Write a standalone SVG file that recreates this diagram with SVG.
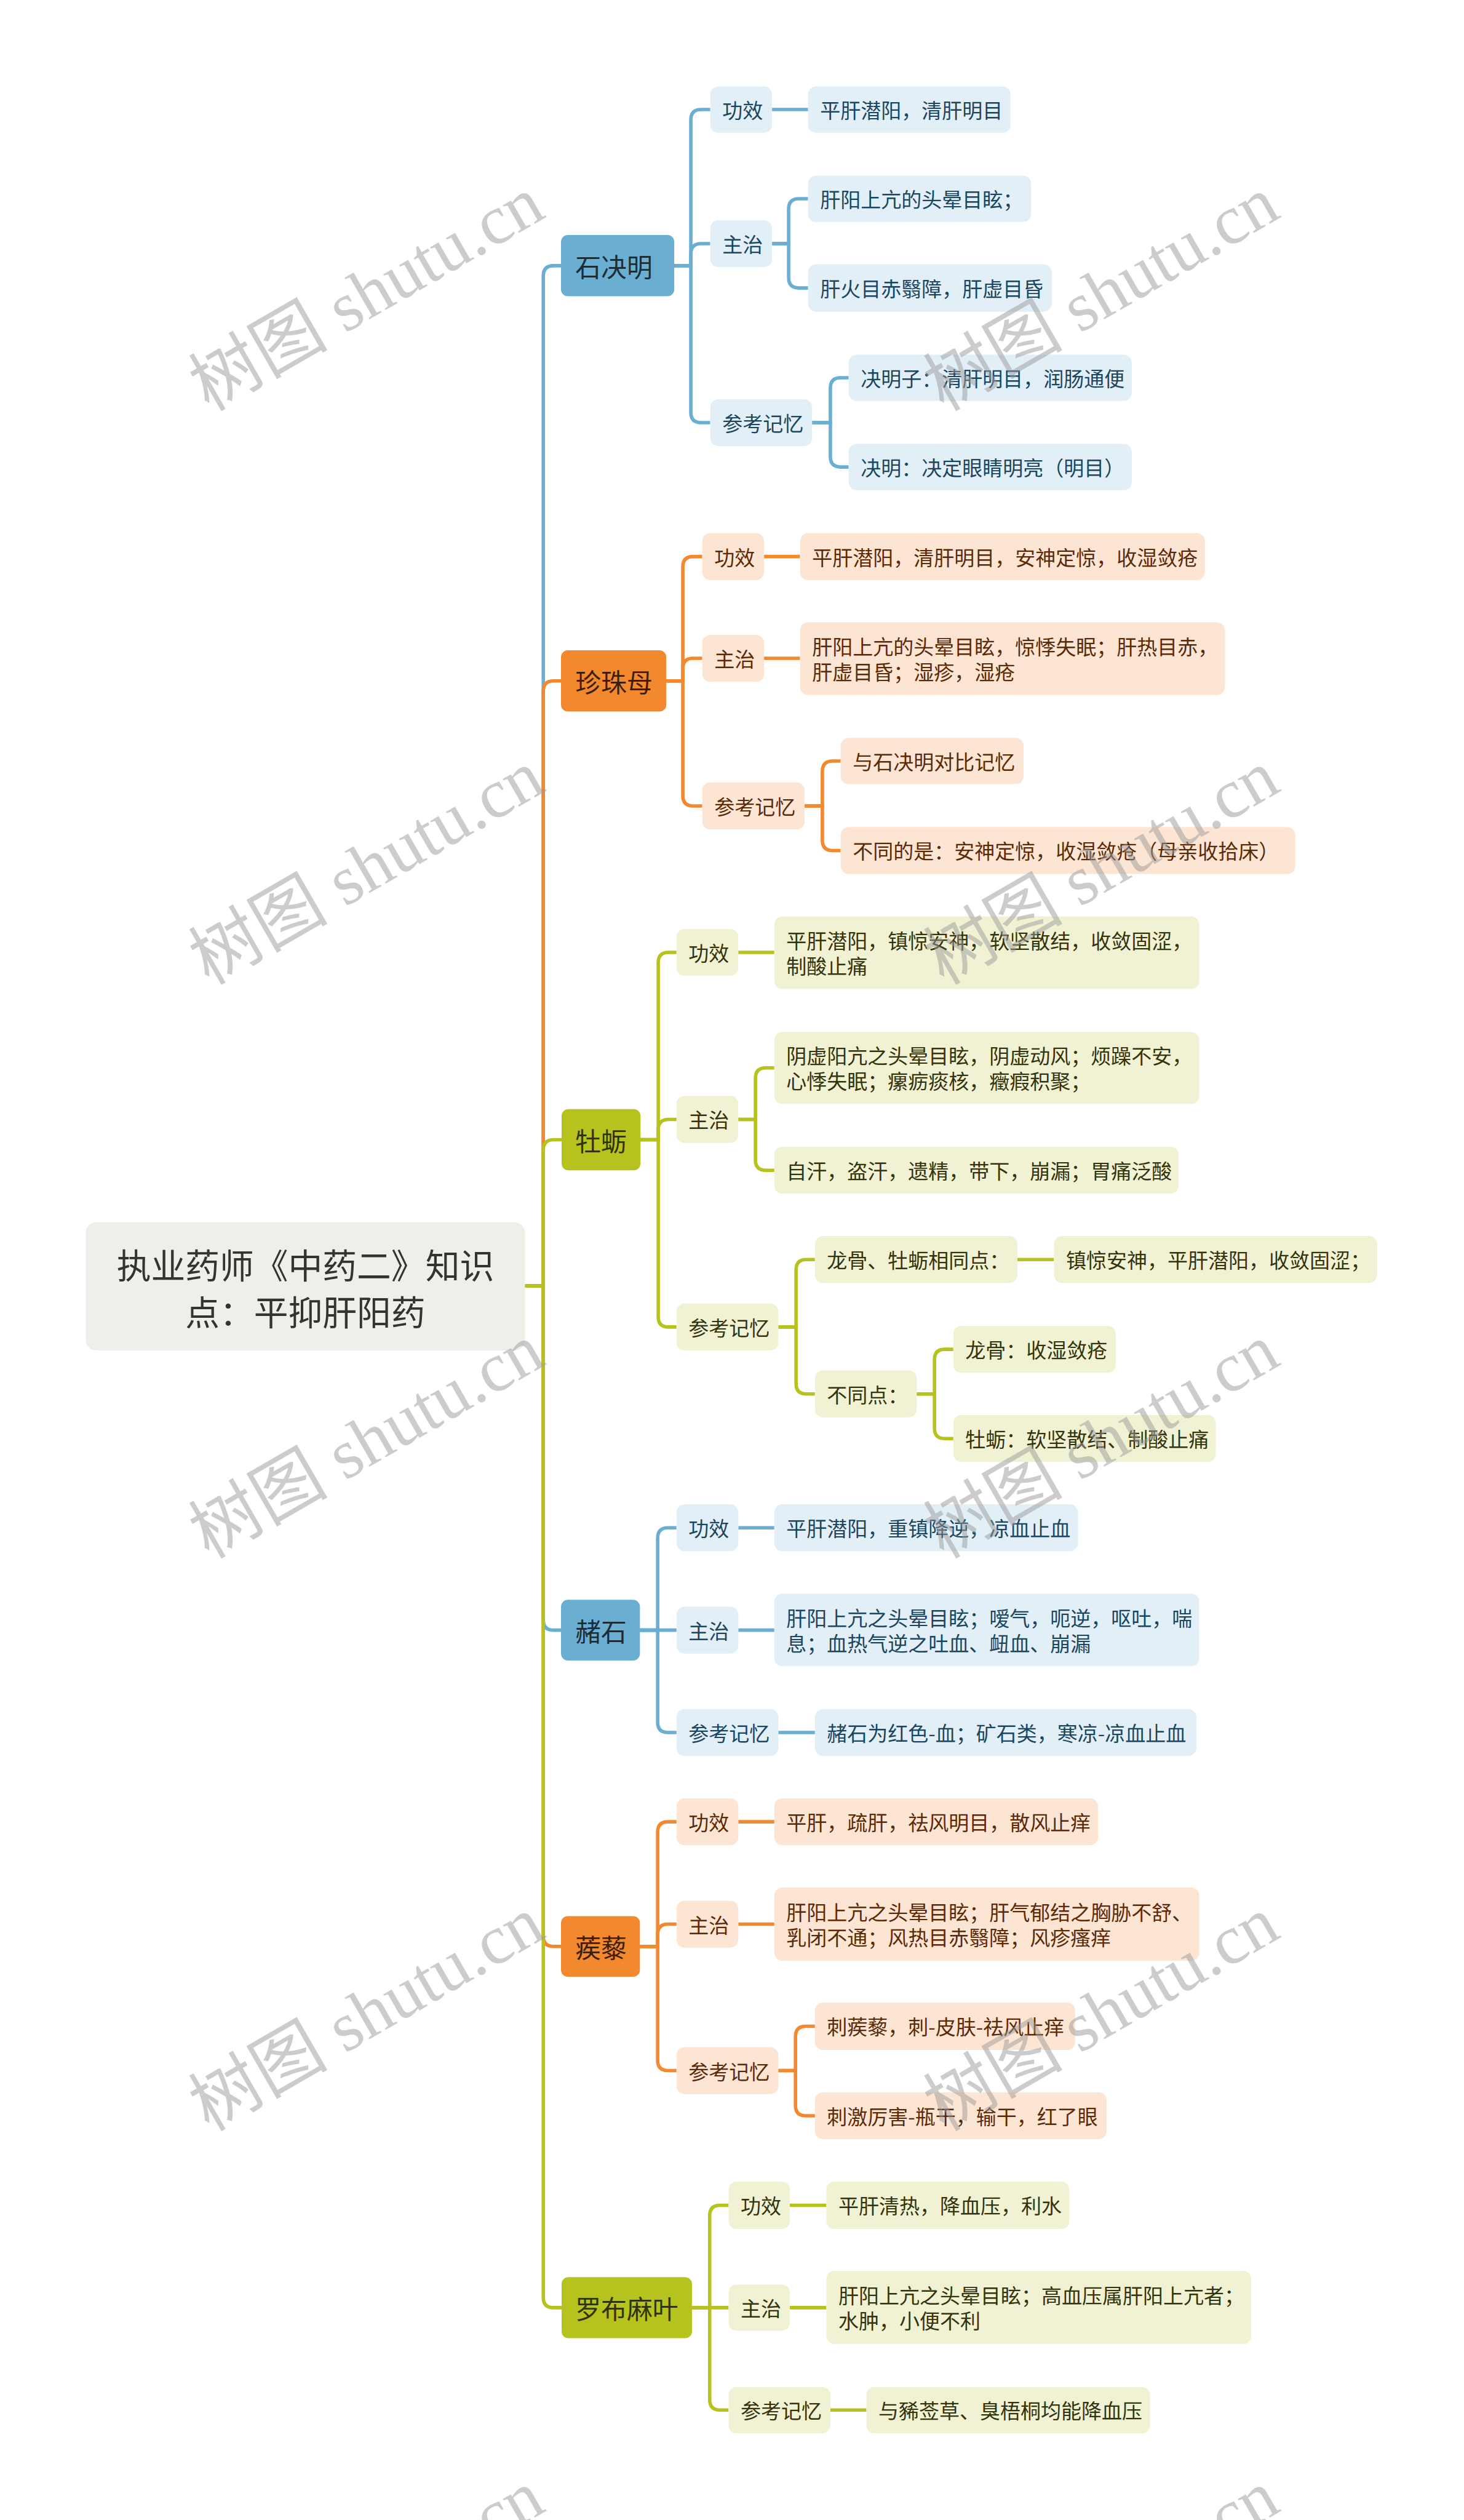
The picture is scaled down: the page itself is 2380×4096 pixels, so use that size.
<svg xmlns="http://www.w3.org/2000/svg" width="2380" height="4096" viewBox="0 0 2380 4096">
<style>
.t{font-family:"Noto Sans CJK SC","Noto Sans",sans-serif;dominant-baseline:central}
.s{font-size:35.5px}
.m{font-size:45px}
.r{font-size:60px;fill:#333333;text-anchor:middle}
.c{fill:none;stroke-width:6}
.cb{stroke:#6aaed2}
.co{stroke:#f2892f}
.cg{stroke:#b6c21e}
.mb{fill:#6aaed2}.mo{fill:#f2892f}.mg{fill:#b6c21e}
.lb{fill:#e2eff7}.lo{fill:#fde5d3}.lg{fill:#f1f2d3}
.tmb{fill:#1c2d38}.tmo{fill:#3d1e05}.tmg{fill:#2f3306}
.tb{fill:#1a4660}.to{fill:#5a2a08}.tg{fill:#33330c}
.wm{font-family:"Liberation Serif","Noto Sans CJK SC",serif;font-size:122px;fill:#999999;fill-opacity:0.5;text-anchor:middle;dominant-baseline:central}
</style>
<rect width="2380" height="4096" fill="#ffffff"/>
<g transform="scale(0.9297)">
<g id="connectors">
 <g class="c cb">
  <path d="M918,2248 H950 V482.5 Q950,464.5 968,464.5 H981"/>
  <path d="M1179,464.5 H1208 V209.5 Q1208,191.5 1226,191.5 H1242"/>
  <path d="M1179,464.5 H1208 V444 Q1208,426 1226,426 H1242"/>
  <path d="M1179,464.5 H1208 V721 Q1208,739 1226,739 H1242"/>
  <path d="M1350,191.5 H1413"/>
  <path d="M1350,426 H1379 V365.5 Q1379,347.5 1397,347.5 H1413"/>
  <path d="M1350,426 H1379 V485.5 Q1379,503.5 1397,503.5 H1413"/>
  <path d="M1420,739 H1452 V678.5 Q1452,660.5 1470,660.5 H1484"/>
  <path d="M1420,739 H1452 V798.5 Q1452,816.5 1470,816.5 H1484"/>
 </g>
 <g class="c co">
  <path d="M918,2248 H950 V1208.5 Q950,1190.5 968,1190.5 H981"/>
  <path d="M1165,1190.5 H1194 V991 Q1194,973 1212,973 H1228"/>
  <path d="M1165,1190.5 H1194 V1169 Q1194,1151 1212,1151 H1228"/>
  <path d="M1165,1190.5 H1194 V1391 Q1194,1409 1212,1409 H1228"/>
  <path d="M1336,973 H1399"/>
  <path d="M1336,1151 H1399"/>
  <path d="M1407,1409 H1438 V1348.5 Q1438,1330.5 1456,1330.5 H1470"/>
  <path d="M1407,1409 H1438 V1469 Q1438,1487 1456,1487 H1470"/>
 </g>
 <g class="c cg">
  <path d="M918,2248 H950 V2010.5 Q950,1992.5 968,1992.5 H982"/>
  <path d="M1120,1992.5 H1151 V1683 Q1151,1665 1169,1665 H1183"/>
  <path d="M1120,1992.5 H1151 V1975 Q1151,1957 1169,1957 H1183"/>
  <path d="M1120,1992.5 H1151 V2302 Q1151,2320 1169,2320 H1183"/>
  <path d="M1291,1665 H1354"/>
  <path d="M1291,1957 H1321 V1885 Q1321,1867 1339,1867 H1354"/>
  <path d="M1291,1957 H1321 V2028 Q1321,2046 1339,2046 H1354"/>
  <path d="M1361,2320 H1392 V2220 Q1392,2202 1410,2202 H1425"/>
  <path d="M1361,2320 H1392 V2419 Q1392,2437 1410,2437 H1425"/>
  <path d="M1779,2202 H1843"/>
  <path d="M1603,2437 H1634 V2377 Q1634,2359 1652,2359 H1667"/>
  <path d="M1603,2437 H1634 V2497 Q1634,2515 1652,2515 H1667"/>
 </g>
 <g class="c cb">
  <path d="M918,2248 H950 V2832 Q950,2850 968,2850 H981"/>
  <path d="M1119,2850 H1150 V2689 Q1150,2671 1168,2671 H1183"/>
  <path d="M1119,2850 H1183"/>
  <path d="M1119,2850 H1150 V3011 Q1150,3029 1168,3029 H1183"/>
  <path d="M1291,2671 H1354"/>
  <path d="M1291,2850 H1354"/>
  <path d="M1361,3029 H1425"/>
 </g>
 <g class="c co">
  <path d="M918,2248 H950 V3385 Q950,3403 968,3403 H981"/>
  <path d="M1119,3403 H1150 V3203 Q1150,3185 1168,3185 H1183"/>
  <path d="M1119,3403 H1150 V3382 Q1150,3364 1168,3364 H1183"/>
  <path d="M1119,3403 H1150 V3602 Q1150,3620 1168,3620 H1183"/>
  <path d="M1291,3185 H1354"/>
  <path d="M1291,3364 H1354"/>
  <path d="M1361,3620 H1391 V3560.5 Q1391,3542.5 1409,3542.5 H1425"/>
  <path d="M1361,3620 H1391 V3681 Q1391,3699 1409,3699 H1425"/>
 </g>
 <g class="c cg">
  <path d="M918,2248 H950 V4016.5 Q950,4034.5 968,4034.5 H982"/>
  <path d="M1210,4034.5 H1241 V3873.5 Q1241,3855.5 1259,3855.5 H1274"/>
  <path d="M1210,4034.5 H1274"/>
  <path d="M1210,4034.5 H1241 V4195.5 Q1241,4213.5 1259,4213.5 H1274"/>
  <path d="M1381,3855.5 H1445"/>
  <path d="M1381,4034.5 H1445"/>
  <path d="M1452,4213.5 H1515"/>
 </g>
</g>

<g id="root">
 <rect x="150" y="2137" width="768" height="224" rx="18" fill="#efefe9"/>
 <text class="t r" x="534" y="2209">执业药师《中药二》知识</text>
 <text class="t r" x="534" y="2291">点：平抑肝阳药</text>
</g>

<!-- 石决明 -->
<g id="n1">
 <rect class="mb" x="981" y="411" width="198" height="107" rx="12"/>
 <text class="t m tmb" x="1006" y="464.5">石决明</text>
</g>
<g id="n1a"><rect class="lb" x="1242" y="151" width="108" height="81" rx="14"/><text class="t s tb" x="1263" y="191.5">功效</text></g>
<g id="n1b"><rect class="lb" x="1242" y="385" width="108" height="82" rx="14"/><text class="t s tb" x="1263" y="426">主治</text></g>
<g id="n1c"><rect class="lb" x="1242" y="698" width="178" height="82" rx="14"/><text class="t s tb" x="1263" y="739">参考记忆</text></g>
<g id="n1a1"><rect class="lb" x="1413" y="151" width="354" height="81" rx="14"/><text class="t s tb" x="1434" y="191.5">平肝潜阳，清肝明目</text></g>
<g id="n1b1"><rect class="lb" x="1413" y="307" width="390" height="81" rx="14"/><text class="t s tb" x="1434" y="347.5">肝阳上亢的头晕目眩；</text></g>
<g id="n1b2"><rect class="lb" x="1413" y="462" width="426" height="83" rx="14"/><text class="t s tb" x="1434" y="503.5">肝火目赤翳障，肝虚目昏</text></g>
<g id="n1c1"><rect class="lb" x="1484" y="620" width="495" height="81" rx="14"/><text class="t s tb" x="1505" y="660.5">决明子：清肝明目，润肠通便</text></g>
<g id="n1c2"><rect class="lb" x="1484" y="776" width="495" height="81" rx="14"/><text class="t s tb" x="1505" y="816.5">决明：决定眼睛明亮（明目）</text></g>

<!-- 珍珠母 -->
<g id="n2">
 <rect class="mo" x="981" y="1137" width="184" height="107" rx="12"/>
 <text class="t m tmo" x="1006" y="1190.5">珍珠母</text>
</g>
<g id="n2a"><rect class="lo" x="1228" y="932" width="108" height="82" rx="14"/><text class="t s to" x="1249" y="973">功效</text></g>
<g id="n2b"><rect class="lo" x="1228" y="1110" width="108" height="82" rx="14"/><text class="t s to" x="1249" y="1151">主治</text></g>
<g id="n2c"><rect class="lo" x="1228" y="1368" width="179" height="82" rx="14"/><text class="t s to" x="1249" y="1409">参考记忆</text></g>
<g id="n2a1"><rect class="lo" x="1399" y="932" width="708" height="82" rx="14"/><text class="t s to" x="1420" y="973">平肝潜阳，清肝明目，安神定惊，收湿敛疮</text></g>
<g id="n2b1"><rect class="lo" x="1399" y="1088" width="743" height="127" rx="14"/><text class="t s to" x="1420" y="1129.5">肝阳上亢的头晕目眩，惊悸失眠；肝热目赤，</text><text class="t s to" x="1420" y="1173.5">肝虚目昏；湿疹，湿疮</text></g>
<g id="n2c1"><rect class="lo" x="1470" y="1290" width="320" height="81" rx="14"/><text class="t s to" x="1491" y="1330.5">与石决明对比记忆</text></g>
<g id="n2c2"><rect class="lo" x="1470" y="1446" width="795" height="82" rx="14"/><text class="t s to" x="1491" y="1487">不同的是：安神定惊，收湿敛疮（母亲收拾床）</text></g>

<!-- 牡蛎 -->
<g id="n3">
 <rect class="mg" x="982" y="1939" width="138" height="107" rx="12"/>
 <text class="t m tmg" x="1006" y="1992.5">牡蛎</text>
</g>
<g id="n3a"><rect class="lg" x="1183" y="1624" width="108" height="82" rx="14"/><text class="t s tg" x="1204" y="1665">功效</text></g>
<g id="n3b"><rect class="lg" x="1183" y="1916" width="108" height="82" rx="14"/><text class="t s tg" x="1204" y="1957">主治</text></g>
<g id="n3c"><rect class="lg" x="1183" y="2279" width="178" height="82" rx="14"/><text class="t s tg" x="1204" y="2320">参考记忆</text></g>
<g id="n3a1"><rect class="lg" x="1354" y="1602" width="743" height="127" rx="14"/><text class="t s tg" x="1375" y="1643.5">平肝潜阳，镇惊安神，软坚散结，收敛固涩，</text><text class="t s tg" x="1375" y="1687.5">制酸止痛</text></g>
<g id="n3b1"><rect class="lg" x="1354" y="1804" width="743" height="126" rx="14"/><text class="t s tg" x="1375" y="1845">阴虚阳亢之头晕目眩，阴虚动风；烦躁不安，</text><text class="t s tg" x="1375" y="1889">心悸失眠；瘰疬痰核，癥瘕积聚；</text></g>
<g id="n3b2"><rect class="lg" x="1354" y="2005" width="707" height="82" rx="14"/><text class="t s tg" x="1375" y="2046">自汗，盗汗，遗精，带下，崩漏；胃痛泛酸</text></g>
<g id="n3c1"><rect class="lg" x="1425" y="2161" width="354" height="82" rx="14"/><text class="t s tg" x="1446" y="2202">龙骨、牡蛎相同点：</text></g>
<g id="n3c1a"><rect class="lg" x="1843" y="2161" width="565" height="82" rx="14"/><text class="t s tg" x="1864" y="2202">镇惊安神，平肝潜阳，收敛固涩；</text></g>
<g id="n3c2"><rect class="lg" x="1425" y="2396" width="178" height="82" rx="14"/><text class="t s tg" x="1446" y="2437">不同点：</text></g>
<g id="n3c2a"><rect class="lg" x="1667" y="2318" width="284" height="82" rx="14"/><text class="t s tg" x="1688" y="2359">龙骨：收湿敛疮</text></g>
<g id="n3c2b"><rect class="lg" x="1667" y="2474" width="459" height="82" rx="14"/><text class="t s tg" x="1688" y="2515">牡蛎：软坚散结、制酸止痛</text></g>

<!-- 赭石 -->
<g id="n4">
 <rect class="mb" x="981" y="2797" width="138" height="106" rx="12"/>
 <text class="t m tmb" x="1006" y="2850">赭石</text>
</g>
<g id="n4a"><rect class="lb" x="1183" y="2630" width="108" height="82" rx="14"/><text class="t s tb" x="1204" y="2671">功效</text></g>
<g id="n4b"><rect class="lb" x="1183" y="2809" width="108" height="82" rx="14"/><text class="t s tb" x="1204" y="2850">主治</text></g>
<g id="n4c"><rect class="lb" x="1183" y="2988" width="178" height="82" rx="14"/><text class="t s tb" x="1204" y="3029">参考记忆</text></g>
<g id="n4a1"><rect class="lb" x="1354" y="2630" width="531" height="82" rx="14"/><text class="t s tb" x="1375" y="2671">平肝潜阳，重镇降逆，凉血止血</text></g>
<g id="n4b1"><rect class="lb" x="1354" y="2786" width="743" height="127" rx="14"/><text class="t s tb" x="1375" y="2827.5">肝阳上亢之头晕目眩；嗳气，呃逆，呕吐，喘</text><text class="t s tb" x="1375" y="2871.5">息；血热气逆之吐血、衄血、崩漏</text></g>
<g id="n4c1"><rect class="lb" x="1425" y="2988" width="667" height="82" rx="14"/><text class="t s tb" x="1446" y="3029">赭石为红色-血；矿石类，寒凉-凉血止血</text></g>

<!-- 蒺藜 -->
<g id="n5">
 <rect class="mo" x="981" y="3350" width="138" height="106" rx="12"/>
 <text class="t m tmo" x="1006" y="3403">蒺藜</text>
</g>
<g id="n5a"><rect class="lo" x="1183" y="3144" width="108" height="82" rx="14"/><text class="t s to" x="1204" y="3185">功效</text></g>
<g id="n5b"><rect class="lo" x="1183" y="3323" width="108" height="82" rx="14"/><text class="t s to" x="1204" y="3364">主治</text></g>
<g id="n5c"><rect class="lo" x="1183" y="3579" width="178" height="82" rx="14"/><text class="t s to" x="1204" y="3620">参考记忆</text></g>
<g id="n5a1"><rect class="lo" x="1354" y="3144" width="566" height="82" rx="14"/><text class="t s to" x="1375" y="3185">平肝，疏肝，祛风明目，散风止痒</text></g>
<g id="n5b1"><rect class="lo" x="1354" y="3300" width="743" height="128" rx="14"/><text class="t s to" x="1375" y="3342">肝阳上亢之头晕目眩；肝气郁结之胸胁不舒、</text><text class="t s to" x="1375" y="3386">乳闭不通；风热目赤翳障；风疹瘙痒</text></g>
<g id="n5c1"><rect class="lo" x="1425" y="3501" width="455" height="83" rx="14"/><text class="t s to" x="1446" y="3542.5">刺蒺藜，刺-皮肤-祛风止痒</text></g>
<g id="n5c2"><rect class="lo" x="1425" y="3658" width="510" height="82" rx="14"/><text class="t s to" x="1446" y="3699">刺激厉害-瓶干，输干，红了眼</text></g>

<!-- 罗布麻叶 -->
<g id="n6">
 <rect class="mg" x="982" y="3981" width="228" height="107" rx="12"/>
 <text class="t m tmg" x="1006" y="4034.5">罗布麻叶</text>
</g>
<g id="n6a"><rect class="lg" x="1274" y="3814" width="107" height="83" rx="14"/><text class="t s tg" x="1295" y="3855.5">功效</text></g>
<g id="n6b"><rect class="lg" x="1274" y="3994" width="107" height="81" rx="14"/><text class="t s tg" x="1295" y="4034.5">主治</text></g>
<g id="n6c"><rect class="lg" x="1274" y="4173" width="178" height="81" rx="14"/><text class="t s tg" x="1295" y="4213.5">参考记忆</text></g>
<g id="n6a1"><rect class="lg" x="1445" y="3814" width="425" height="83" rx="14"/><text class="t s tg" x="1466" y="3855.5">平肝清热，降血压，利水</text></g>
<g id="n6b1"><rect class="lg" x="1445" y="3970" width="743" height="128" rx="14"/><text class="t s tg" x="1466" y="4012">肝阳上亢之头晕目眩；高血压属肝阳上亢者；</text><text class="t s tg" x="1466" y="4056">水肿，小便不利</text></g>
<g id="n6c1"><rect class="lg" x="1515" y="4173" width="496" height="81" rx="14"/><text class="t s tg" x="1536" y="4213.5">与豨莶草、臭梧桐均能降血压</text></g>

<g id="watermark">
 <text class="wm" transform="translate(641,514) rotate(-30)">树图 shutu.cn</text>
 <text class="wm" transform="translate(1926,514) rotate(-30)">树图 shutu.cn</text>
 <text class="wm" transform="translate(641,1517) rotate(-30)">树图 shutu.cn</text>
 <text class="wm" transform="translate(1926,1517) rotate(-30)">树图 shutu.cn</text>
 <text class="wm" transform="translate(641,2520) rotate(-30)">树图 shutu.cn</text>
 <text class="wm" transform="translate(1926,2520) rotate(-30)">树图 shutu.cn</text>
 <text class="wm" transform="translate(641,3521) rotate(-30)">树图 shutu.cn</text>
 <text class="wm" transform="translate(1926,3521) rotate(-30)">树图 shutu.cn</text>
 <text class="wm" transform="translate(641,4524) rotate(-30)">树图 shutu.cn</text>
 <text class="wm" transform="translate(1926,4524) rotate(-30)">树图 shutu.cn</text>
</g>
</g>
</svg>
